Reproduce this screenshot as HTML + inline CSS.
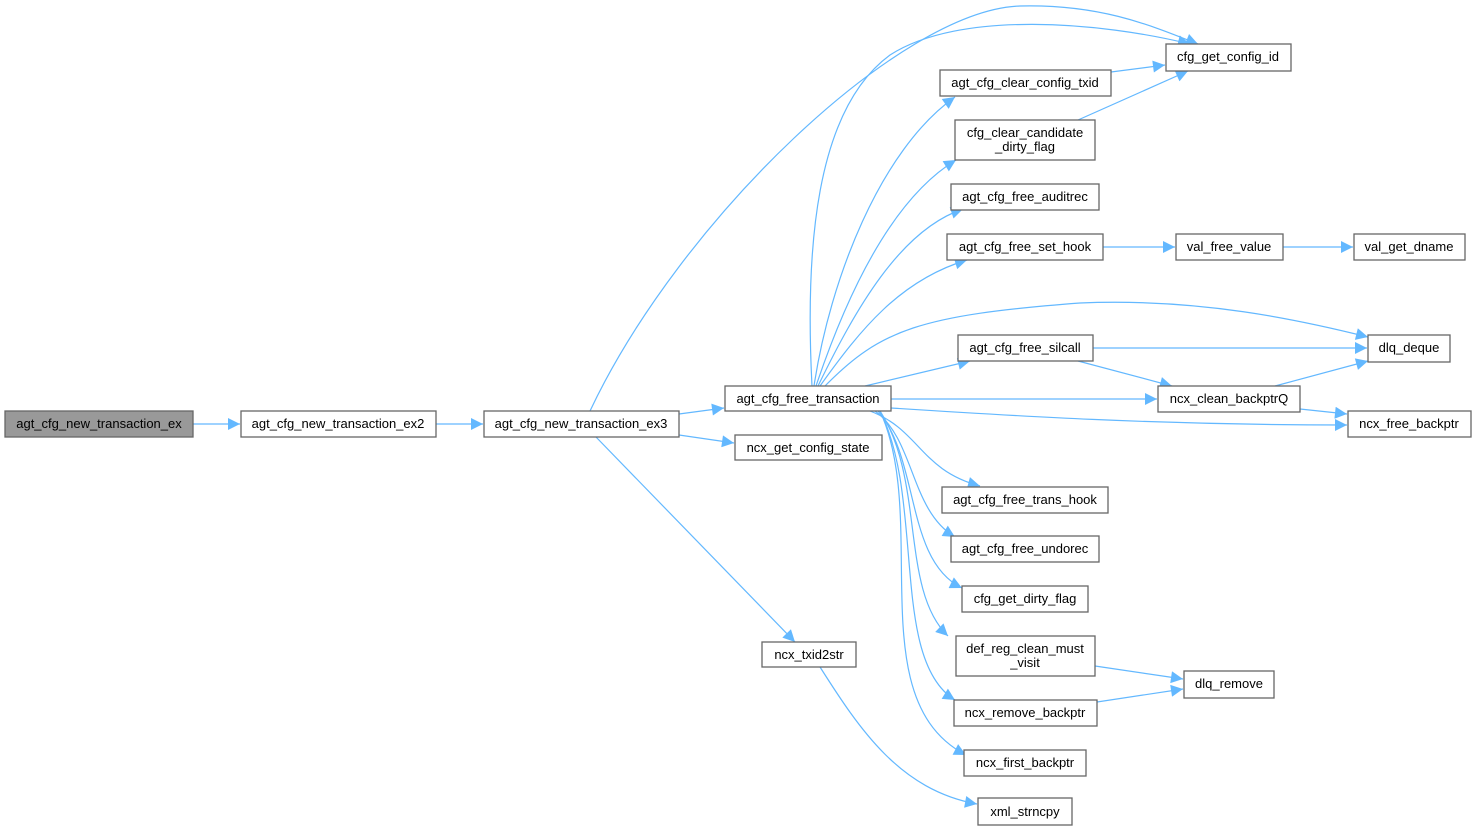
<!DOCTYPE html>
<html><head><meta charset="utf-8"><style>
html,body{margin:0;padding:0;background:#fff;}
svg{display:block;}
text{font-family:"Liberation Sans",Arial,sans-serif;font-size:13px;fill:#000;}
.b{fill:#fff;stroke:#666;stroke-width:1.3;}
.e{fill:none;stroke:#63b8ff;stroke-width:1.2;}
</style></head><body>
<svg width="1476" height="831" viewBox="0 0 1476 831" xmlns="http://www.w3.org/2000/svg">
<defs><marker id="a" viewBox="0 0 10 10" refX="10" refY="5" markerWidth="16" markerHeight="12" markerUnits="userSpaceOnUse" orient="auto"><path d="M0,0L10,5L0,10z" fill="#63b8ff"/></marker></defs>
<g class="e" marker-end="url(#a)">
<path d="M193,424H240"/>
<path d="M436,424H483"/>
<path d="M679,414L724,408"/>
<path d="M679,435L734,443"/>
<path d="M596,437L795,642"/>
<path d="M590,411C680,220 900,10 1020,6C1100,4 1150,25 1198,44"/>
<path d="M812,386C805,250 815,110 890,55C960,10 1100,22 1190,44"/>
<path d="M1111,72L1165,65"/>
<path d="M1078,120L1188,71"/>
<path d="M814,386C830,280 880,150 955,97"/>
<path d="M816,386C845,300 890,200 956,160"/>
<path d="M818,386C855,310 900,230 963,209"/>
<path d="M820,386C860,330 900,280 967,260"/>
<path d="M825,386C880,330 920,315 1080,303C1200,298 1300,320 1368,337"/>
<path d="M865,386L970,361"/>
<path d="M891,399H1157"/>
<path d="M891,408C1000,415 1150,425 1347,425"/>
<path d="M870,411C920,430 920,470 980,486"/>
<path d="M875,411C915,440 910,510 955,537"/>
<path d="M878,411C920,460 905,560 962,588"/>
<path d="M880,411C925,480 900,590 948,636"/>
<path d="M880,411C925,500 890,660 955,700"/>
<path d="M880,411C930,520 860,700 966,755"/>
<path d="M1103,247H1175"/>
<path d="M1283,247H1353"/>
<path d="M1093,348H1367"/>
<path d="M1078,361L1172,386"/>
<path d="M1275,386L1368,361"/>
<path d="M1300,409L1347,414"/>
<path d="M1095,666L1183,679"/>
<path d="M1097,702L1183,689"/>
<path d="M820,667C860,730 900,790 977,804"/>
</g>
<rect x="5" y="411" width="188" height="26" fill="#999" stroke="#666" stroke-width="1.3"/>
<text x="99" y="428" text-anchor="middle">agt_cfg_new_transaction_ex</text>
<g>
<rect class="b" x="241" y="411" width="195" height="26"/><text x="338" y="428" text-anchor="middle">agt_cfg_new_transaction_ex2</text>
<rect class="b" x="484" y="411" width="195" height="26"/><text x="581" y="428" text-anchor="middle">agt_cfg_new_transaction_ex3</text>
<rect class="b" x="725" y="386" width="166" height="25"/><text x="808" y="403" text-anchor="middle">agt_cfg_free_transaction</text>
<rect class="b" x="735" y="435" width="147" height="25"/><text x="808" y="452" text-anchor="middle">ncx_get_config_state</text>
<rect class="b" x="762" y="642" width="94" height="25"/><text x="809" y="659" text-anchor="middle">ncx_txid2str</text>
<rect class="b" x="1166" y="44" width="125" height="27"/><text x="1228" y="61" text-anchor="middle">cfg_get_config_id</text>
<rect class="b" x="940" y="70" width="171" height="26"/><text x="1025" y="87" text-anchor="middle">agt_cfg_clear_config_txid</text>
<rect class="b" x="955" y="120" width="140" height="40"/><text x="1025" y="137" text-anchor="middle">cfg_clear_candidate</text><text x="1025" y="151" text-anchor="middle">_dirty_flag</text>
<rect class="b" x="951" y="184" width="148" height="26"/><text x="1025" y="201" text-anchor="middle">agt_cfg_free_auditrec</text>
<rect class="b" x="947" y="234" width="156" height="26"/><text x="1025" y="251" text-anchor="middle">agt_cfg_free_set_hook</text>
<rect class="b" x="1176" y="234" width="107" height="26"/><text x="1229" y="251" text-anchor="middle">val_free_value</text>
<rect class="b" x="1354" y="234" width="111" height="26"/><text x="1409" y="251" text-anchor="middle">val_get_dname</text>
<rect class="b" x="1368" y="335" width="82" height="27"/><text x="1409" y="352" text-anchor="middle">dlq_deque</text>
<rect class="b" x="958" y="335" width="135" height="26"/><text x="1025" y="352" text-anchor="middle">agt_cfg_free_silcall</text>
<rect class="b" x="1158" y="386" width="142" height="26"/><text x="1229" y="403" text-anchor="middle">ncx_clean_backptrQ</text>
<rect class="b" x="1348" y="411" width="123" height="26"/><text x="1409" y="428" text-anchor="middle">ncx_free_backptr</text>
<rect class="b" x="942" y="487" width="166" height="26"/><text x="1025" y="504" text-anchor="middle">agt_cfg_free_trans_hook</text>
<rect class="b" x="951" y="536" width="148" height="26"/><text x="1025" y="553" text-anchor="middle">agt_cfg_free_undorec</text>
<rect class="b" x="962" y="586" width="126" height="26"/><text x="1025" y="603" text-anchor="middle">cfg_get_dirty_flag</text>
<rect class="b" x="956" y="636" width="139" height="40"/><text x="1025" y="653" text-anchor="middle">def_reg_clean_must</text><text x="1025" y="667" text-anchor="middle">_visit</text>
<rect class="b" x="1184" y="671" width="90" height="27"/><text x="1229" y="688" text-anchor="middle">dlq_remove</text>
<rect class="b" x="954" y="700" width="143" height="26"/><text x="1025" y="717" text-anchor="middle">ncx_remove_backptr</text>
<rect class="b" x="964" y="750" width="122" height="26"/><text x="1025" y="767" text-anchor="middle">ncx_first_backptr</text>
<rect class="b" x="978" y="798" width="94" height="27"/><text x="1025" y="816" text-anchor="middle">xml_strncpy</text>
</g>
</svg>
</body></html>
